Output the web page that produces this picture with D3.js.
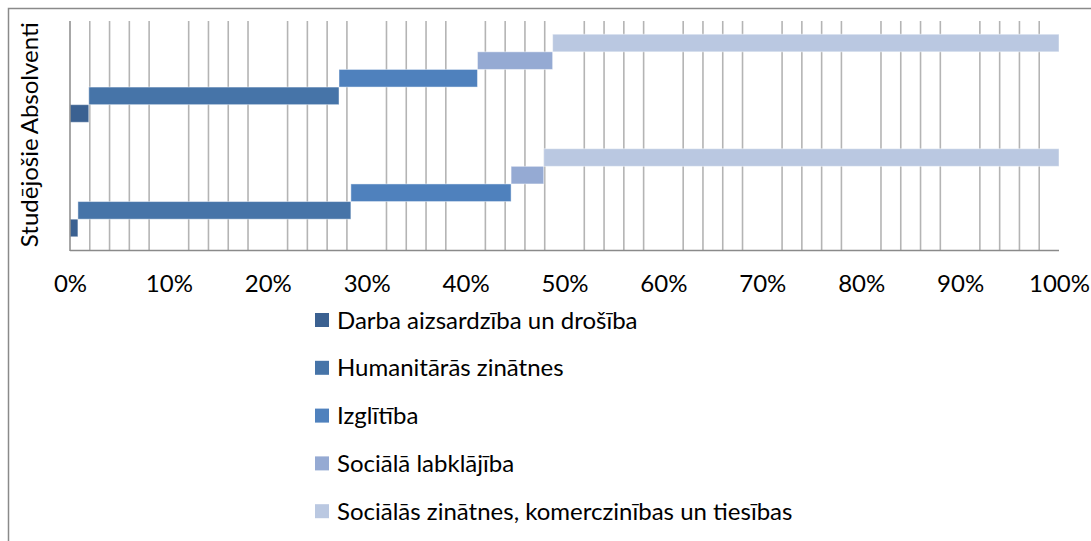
<!DOCTYPE html>
<html>
<head>
<meta charset="utf-8">
<script src="https://cdn.jsdelivr.net/npm/d3@7"></script>
<style>
  body { margin: 0; background: #fff; }
  svg { display: block; }
</style>
</head>
<body>
<div id="chart"></div>
<script>
const width = 1091;
const height = 541;

// categories top to bottom, as shown
const categories = ["Absolventi", "Studējošie"];
const series = [
  "Darba aizsardzība un drošība",
  "Humanitārās zinātnes",
  "Izglītība",
  "Sociālā labklājība",
  "Sociālās zinātnes, komerczinības un tiesības"
];
// shares in %
const absolventi = [1.9, 25.3, 14.0, 7.6, 51.2];
const studejosie = [0.8, 27.6, 16.2, 3.3, 52.1];
const colors = ["#3b6191", "#4674a8", "#4f81bd", "#95aad3", "#bac8e1"];
const xTicks = [0, 10, 20, 30, 40, 50, 60, 70, 80, 90, 100];

const fontFamily = "Lato, 'Open Sans', sans-serif";
const fontSize = 24;

const svg = d3.select("#chart").append("svg")
  .attr("width", width)
  .attr("height", height)
  .attr("font-family", fontFamily);

// chart area border (cropped at right and bottom)
svg.append("rect")
  .attr("x", 8.5).attr("y", 8.5)
  .attr("width", width + 20).attr("height", height + 20)
  .attr("fill", "#fff")
  .attr("stroke", "#8a8a8a")
  .attr("stroke-width", 1.5);

const x = d3.scaleLinear().domain([0, 100]).range([70, 1059]);

// gap width 150% of one bar, five bars per group
const gap = 1.5 / 6.5;
const y = d3.scaleBand().domain(categories).range([21, 250])
  .paddingInner(gap).paddingOuter(gap / 2);

// first series drawn at the bottom of each group
const ySub = d3.scaleBand().domain(series.slice().reverse()).range([0, y.bandwidth()]);

// minor gridlines every 2%, none at the 10% marks
const minor = d3.range(2, 100, 2).filter(d => d % 10 !== 0);
svg.append("g")
  .selectAll("line")
  .data(minor)
  .join("line")
  .attr("x1", d => x(d)).attr("x2", d => x(d))
  .attr("y1", 21).attr("y2", 250)
  .attr("stroke", "#b4b4b4")
  .attr("stroke-width", 1.6);

const rows = [
  { cat: "Absolventi", values: absolventi },
  { cat: "Studējošie", values: studejosie }
];

const bars = [];
rows.forEach(r => {
  let acc = 0;
  r.values.forEach((v, i) => {
    bars.push({ cat: r.cat, key: series[i], i: i, x0: acc, x1: acc + v });
    acc += v;
  });
});

svg.append("g")
  .selectAll("rect")
  .data(bars)
  .join("rect")
  .attr("x", d => x(d.x0))
  .attr("y", d => y(d.cat) + ySub(d.key))
  .attr("width", d => x(Math.min(d.x1, 100)) - x(d.x0))
  .attr("height", ySub.bandwidth())
  .attr("fill", d => colors[d.i])
  .attr("stroke", "rgba(255,255,255,0.45)")
  .attr("stroke-width", 1);

// axes lines
svg.append("line")
  .attr("x1", 70).attr("x2", 1059)
  .attr("y1", 250.5).attr("y2", 250.5)
  .attr("stroke", "#8a8a8a").attr("stroke-width", 1.5);
svg.append("line")
  .attr("x1", 70).attr("x2", 70)
  .attr("y1", 21).attr("y2", 251)
  .attr("stroke", "#8a8a8a").attr("stroke-width", 1.5);

// x tick labels
const xAxis = svg.append("g")
  .attr("transform", "translate(0,250)")
  .call(d3.axisBottom(x).tickValues(xTicks).tickSize(0).tickPadding(25)
    .tickFormat(d => d + "%"));
xAxis.select(".domain").remove();
xAxis.selectAll("text")
  .attr("font-family", fontFamily)
  .attr("font-size", fontSize)
  .attr("fill", "#000");

// category labels, rotated
svg.append("g")
  .selectAll("text")
  .data(categories)
  .join("text")
  .attr("transform", d => `translate(38,${y(d) + y.bandwidth() / 2}) rotate(-90)`)
  .attr("text-anchor", "middle")
  .attr("font-size", fontSize)
  .attr("fill", "#000")
  .text(d => d);

// legend
const legend = svg.append("g")
  .selectAll("g")
  .data(series)
  .join("g")
  .attr("transform", (d, i) => `translate(315,${320 + i * 47.8})`);

legend.append("rect")
  .attr("x", 0).attr("y", -7)
  .attr("width", 14).attr("height", 14)
  .attr("fill", (d, i) => colors[i]);

legend.append("text")
  .attr("x", 22).attr("y", 8.5)
  .attr("font-size", fontSize)
  .attr("fill", "#000")
  .text(d => d);
</script>
</body>
</html>
